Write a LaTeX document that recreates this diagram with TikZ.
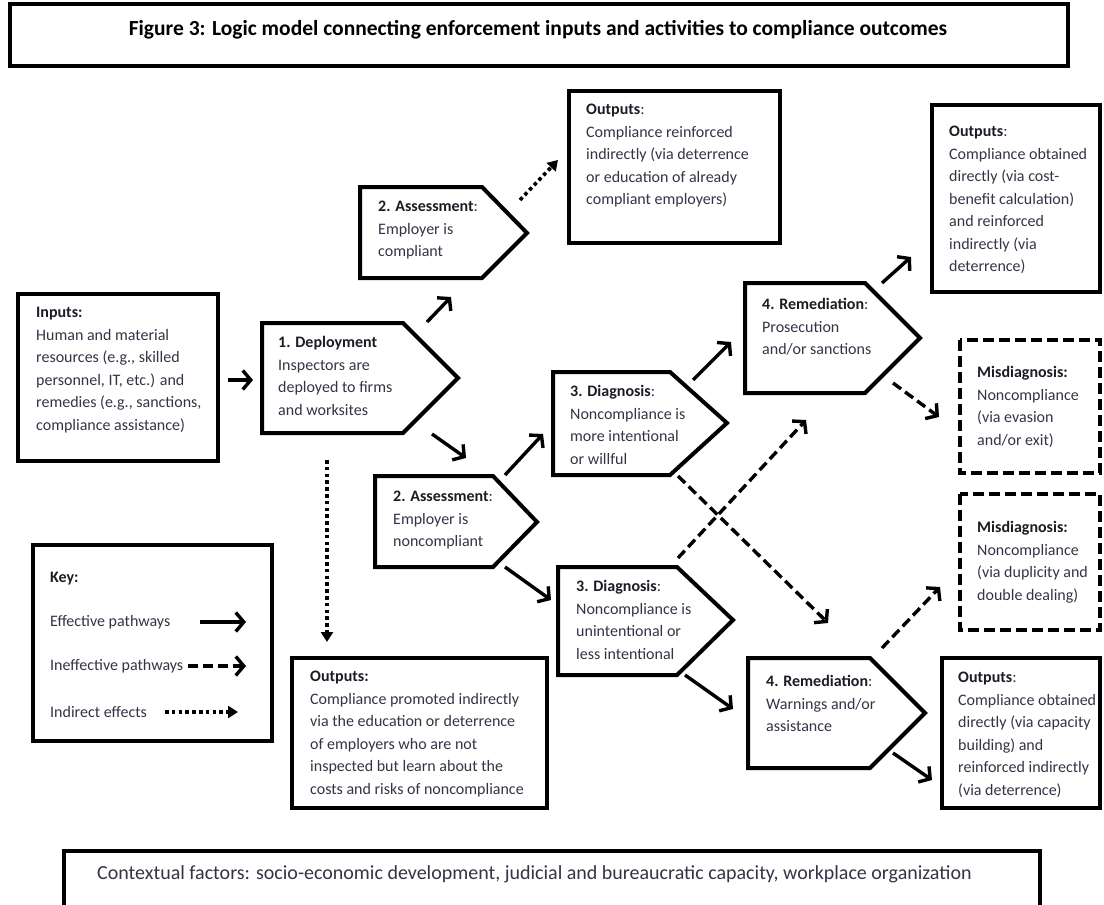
\documentclass[tikz,border=0pt]{standalone}
\usepackage{fontspec}
\setmainfont{Carlito}
\usetikzlibrary{arrows.meta}
\definecolor{textc}{RGB}{52,52,70}
\definecolor{headc}{RGB}{28,28,38}
\tikzset{
  x=1pt,y=-1pt,
  boxline/.style={draw=black,line width=4pt,line join=miter},
  dashbox/.style={draw=black,line width=4.4pt,dash pattern=on 11pt off 5pt},
  txt/.style={anchor=north west,inner sep=0pt,align=left,text=textc,font=\fontsize{16}{22.5}\selectfont},
  effarrow/.style={line width=3.4pt,-{Straight Barb[length=8pt,width=19pt]}},
  inefarrow/.style={line width=3.4pt,dash pattern=on 10pt off 5pt,-{Straight Barb[length=8pt,width=19pt]}},
  indarrow/.style={line width=3.6pt,dash pattern=on 3.6pt off 3.2pt,-{Triangle[length=10pt,width=12pt]}},
}
\newcommand{\hd}[1]{\textcolor{headc}{\textbf{#1}}}
\begin{document}
\begin{tikzpicture}
\useasboundingbox (0,0) rectangle (1104,905);
\fill[white] (0,0) rectangle (1104,905);

% title
\draw[boxline] (10,4) rectangle (1068,66);
\node[inner sep=0pt,font=\fontsize{21.5}{24}\selectfont\bfseries] (title) at (538,30) {Figure 3: Logic model connecting enforcement inputs and activities to compliance outcomes};

% inputs
\draw[boxline] (18,294) rectangle (218,461);
\node[txt] (inputs) at (36,302) {\strut\hd{Inputs:}\\Human and material\\resources (e.g., skilled\\personnel, IT, etc.) and\\remedies (e.g., sanctions,\\compliance assistance)};

% deployment
\draw[boxline] (262,323) -- (403,323) -- (458,378) -- (403,433) -- (262,433) -- cycle;
\node[txt] (deploy) at (278,332) {\strut\hd{1. Deployment}\\Inspectors are\\deployed to firms\\and worksites};

% assessment compliant
\draw[boxline] (360,187) -- (482,187) -- (527,233) -- (482,278) -- (360,278) -- cycle;
\node[txt] (asc) at (378,196) {\strut\hd{2. Assessment}:\\Employer is\\compliant};

% outputs top
\draw[boxline] (569,91) rectangle (780,243);
\node[txt] (outtop) at (586,99) {\strut\hd{Outputs}:\\Compliance reinforced\\indirectly (via deterrence\\or education of already\\compliant employers)};

% assessment noncompliant
\draw[boxline] (375,476) -- (493,476) -- (537,522) -- (493,567) -- (375,567) -- cycle;
\node[txt] (asn) at (393,486) {\strut\hd{2. Assessment}:\\Employer is\\noncompliant};

% diagnosis 1
\draw[boxline] (553,372) -- (670,372) -- (727,423) -- (670,475) -- (553,475) -- cycle;
\node[txt] (diag1) at (570,381) {\strut\hd{3. Diagnosis}:\\Noncompliance is\\more intentional\\or willful};

% diagnosis 2
\draw[boxline] (558,567) -- (677,567) -- (733,620) -- (677,675) -- (558,675) -- cycle;
\node[txt] (diag2) at (576,576) {\strut\hd{3. Diagnosis}:\\Noncompliance is\\unintentional or\\less intentional};

% remediation prosecution
\draw[boxline] (745,283) -- (865,283) -- (920,338) -- (865,393) -- (745,393) -- cycle;
\node[txt] (rem1) at (762,294) {\strut\hd{4. Remediation}:\\Prosecution\\and/or sanctions};

% remediation warnings
\draw[boxline] (748,658) -- (870,658) -- (925,713) -- (870,768) -- (748,768) -- cycle;
\node[txt] (rem2) at (766,671) {\strut\hd{4. Remediation}:\\Warnings and/or\\assistance};

% outputs top right
\draw[boxline] (932,105) rectangle (1100,292);
\node[txt] (outtr) at (949,121) {\strut\hd{Outputs}:\\Compliance obtained\\directly (via cost-\\benefit calculation)\\and reinforced\\indirectly (via\\deterrence)};

% misdiagnosis 1
\draw[dashbox] (960,340) rectangle (1100,473);
\node[txt] (mis1) at (977,362) {\strut\hd{Misdiagnosis:}\\Noncompliance\\(via evasion\\and/or exit)};

% misdiagnosis 2
\draw[dashbox] (960,494) rectangle (1100,630);
\node[txt] (mis2) at (977,517) {\strut\hd{Misdiagnosis:}\\Noncompliance\\(via duplicity and\\double dealing)};

% outputs bottom right
\draw[boxline] (942,658) rectangle (1100,808);
\node[txt] (outbr) at (958,667) {\strut\hd{Outputs}:\\Compliance obtained\\directly (via capacity\\building) and\\reinforced indirectly\\(via deterrence)};

% outputs bottom
\draw[boxline] (292,658) rectangle (547,808);
\node[txt] (outb) at (310,666) {\strut\hd{Outputs:}\\Compliance promoted indirectly\\via the education or deterrence\\of employers who are not\\inspected but learn about the\\costs and risks of noncompliance};

% key
\draw[boxline] (33,545) rectangle (272,741);
\node[txt] (key) at (50,567) {\strut\hd{Key:}};
\node[txt,anchor=west] (keyeff) at (50,622) {Effective pathways};
\node[txt,anchor=west] (keyinef) at (50,666) {Ineffective pathways};
\node[txt,anchor=west] (keyind) at (50,712) {Indirect effects};
\coordinate (ke1) at (200,622); \coordinate (ke2) at (246,622);
\coordinate (ki1) at (188,666); \coordinate (ki2) at (246,666);
\coordinate (kd1) at (165,712); \coordinate (kd2) at (238,712);
\draw[effarrow] (ke1) -- (ke2);
\draw[inefarrow] (ki1) -- (ki2);
\draw[indarrow] (kd1) -- (kd2);

% context
\draw[boxline] (64,851) rectangle (1040,918);
\node[anchor=west,inner sep=0pt,text=textc,font=\fontsize{20}{22}\selectfont] (context) at (97,874) {Contextual factors: socio-economic development, judicial and bureaucratic capacity, workplace organization};

% arrow coordinates
\coordinate (a1s) at (228,380); \coordinate (a1e) at (253,380);
\coordinate (a2s) at (427,322); \coordinate (a2e) at (451,297);
\coordinate (a3s) at (432,434); \coordinate (a3e) at (466,458);
\coordinate (a4s) at (505,475); \coordinate (a4e) at (543,434);
\coordinate (a5s) at (505,567); \coordinate (a5e) at (551,600);
\coordinate (a6s) at (693,380); \coordinate (a6e) at (731,342);
\coordinate (a7s) at (685,675); \coordinate (a7e) at (733,709);
\coordinate (a8s) at (882,283); \coordinate (a8e) at (911,257);
\coordinate (a9s) at (893,753); \coordinate (a9e) at (932,780);
\coordinate (d1s) at (678,476); \coordinate (d1e) at (828,623);
\coordinate (d2s) at (678,558); \coordinate (d2e) at (806,420);
\coordinate (d3s) at (893,383); \coordinate (d3e) at (939,417);
\coordinate (d4s) at (882,648); \coordinate (d4e) at (940,587);
\coordinate (o1s) at (520,200); \coordinate (o1e) at (558,160);
\coordinate (o2s) at (327,460); \coordinate (o2e) at (327,642);

\draw[effarrow] (a1s) -- (a1e);
\draw[effarrow] (a2s) -- (a2e);
\draw[effarrow] (a3s) -- (a3e);
\draw[effarrow] (a4s) -- (a4e);
\draw[effarrow] (a5s) -- (a5e);
\draw[effarrow] (a6s) -- (a6e);
\draw[effarrow] (a7s) -- (a7e);
\draw[effarrow] (a8s) -- (a8e);
\draw[effarrow] (a9s) -- (a9e);
\draw[inefarrow] (d1s) -- (d1e);
\draw[inefarrow] (d2s) -- (d2e);
\draw[inefarrow] (d3s) -- (d3e);
\draw[inefarrow] (d4s) -- (d4e);
\draw[indarrow] (o1s) -- (o1e);
\draw[indarrow] (o2s) -- (o2e);
\end{tikzpicture}
\end{document}
